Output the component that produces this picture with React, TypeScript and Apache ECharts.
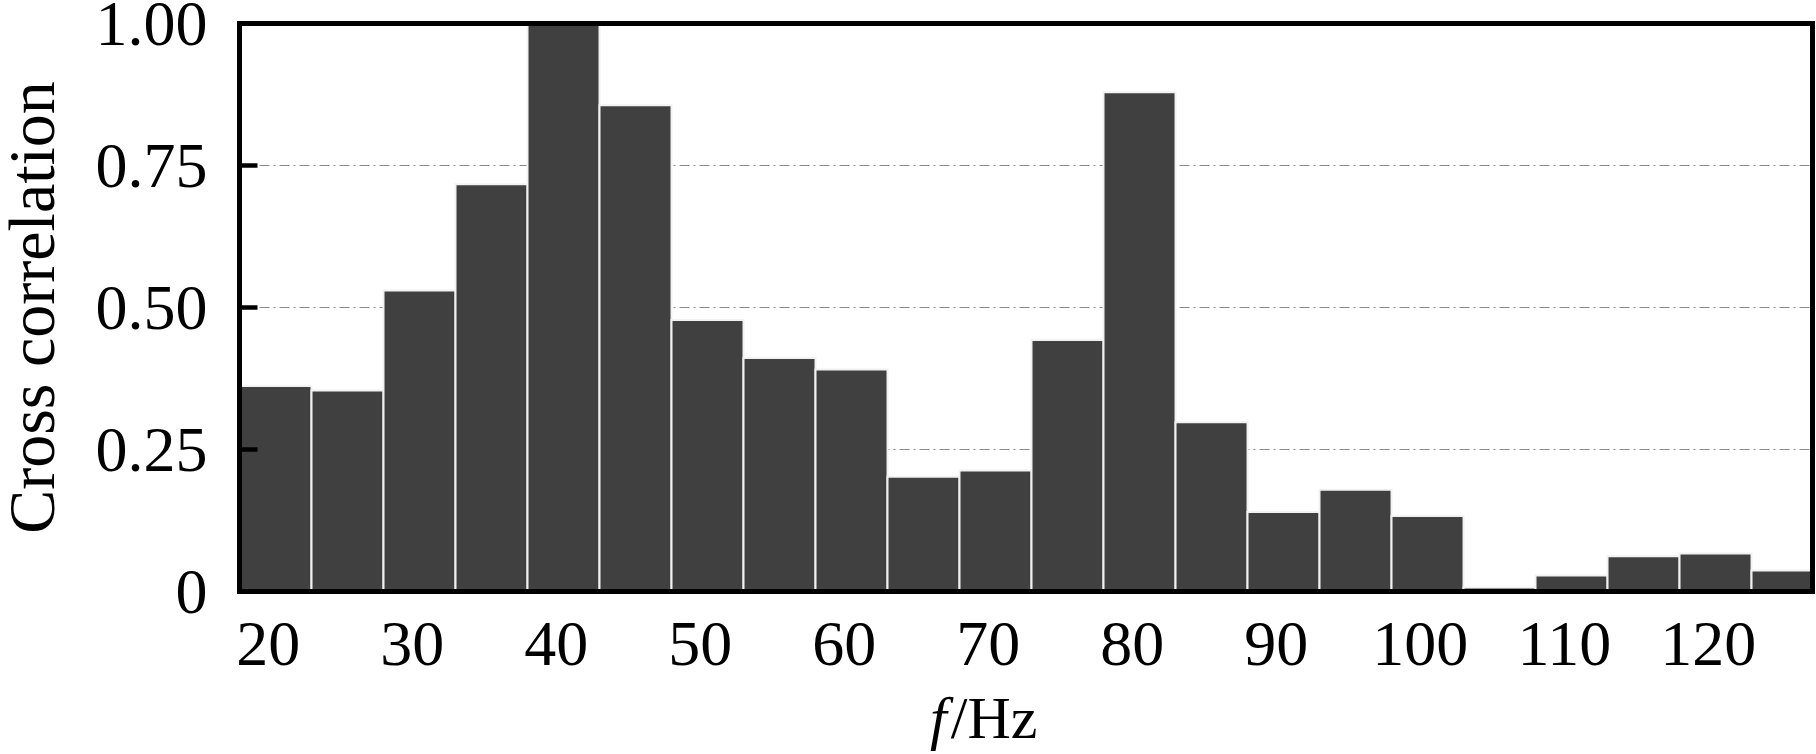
import React, { useEffect, useRef } from "react";
import * as echarts from "echarts";

// Histogram bins (Hz): centre frequency of each 5 Hz bin
const binCenters = [
  20.5, 25.5, 30.5, 35.5, 40.5, 45.5, 50.5, 55.5, 60.5, 65.5, 70.5,
  75.5, 80.5, 85.5, 90.5, 95.5, 100.5, 105.5, 110.5, 115.5, 120.5, 125.5,
];
const binWidth = 5;
// Cross correlation value of each bin
const crossCorrelation = [
  0.362, 0.354, 0.53, 0.717, 1.0, 0.856, 0.478, 0.411, 0.391, 0.202, 0.213,
  0.443, 0.879, 0.298, 0.14, 0.179, 0.133, 0.007, 0.028, 0.062, 0.067, 0.037,
];
const xTickValues = [20, 30, 40, 50, 60, 70, 80, 90, 100, 110, 120];
const xMin = 18;
const xMax = 127.2;
const yMin = 0;
const yMax = 1;
const yInterval = 0.25;

const FONT = "'Liberation Serif', 'Times New Roman', serif";

export default function App() {
  const ref = useRef<HTMLDivElement>(null);

  useEffect(() => {
    document.body.style.margin = "0";
    if (!ref.current) return;
    const chart = echarts.init(ref.current, undefined, { renderer: "svg" });

    const frameLine = {
      show: true,
      onZero: false,
      lineStyle: { color: "#000", width: 5, cap: "square" as const },
    };

    const option = {
      animation: false,
      backgroundColor: "#fff",
      grid: {
        left: 239.5,
        right: 4,
        top: 23.5,
        bottom: 162.5,
        containLabel: false,
        outerBoundsMode: "none",
      },
      xAxis: [
        {
          type: "value",
          position: "bottom",
          min: xMin,
          max: xMax,
          z: 5,
          axisLine: frameLine,
          axisTick: { show: false },
          splitLine: { show: false },
          axisLabel: {
            customValues: xTickValues,
            fontFamily: FONT,
            fontSize: 64,
            color: "#000",
            margin: 20,
          },
          name: "{i|f}/Hz",
          nameLocation: "middle",
          nameGap: 96,
          nameTextStyle: {
            fontFamily: FONT,
            fontSize: 60,
            color: "#000",
            padding: [0, 84, 0, 0],
            rich: {
              i: { fontFamily: FONT, fontSize: 60, fontStyle: "italic", color: "#000", padding: [0, 4, 0, 0] },
            },
          },
        },
        {
          type: "value",
          position: "top",
          min: xMin,
          max: xMax,
          z: 5,
          axisLine: frameLine,
          axisTick: { show: false },
          axisLabel: { show: false },
          splitLine: { show: false },
        },
      ],
      yAxis: [
        {
          type: "value",
          min: yMin,
          max: yMax,
          interval: yInterval,
          position: "left",
          axisLine: { show: false },
          axisTick: { show: false },
          axisLabel: { show: false },
          splitLine: {
            show: true,
            lineStyle: { color: "#8a8a8a", width: 1.2, type: [10, 4, 2, 4] },
          },
        },
        {
          type: "value",
          min: yMin,
          max: yMax,
          interval: yInterval,
          position: "left",
          z: 5,
          axisLine: frameLine,
          axisTick: { show: true, inside: true, length: 18, lineStyle: { color: "#000", width: 4.5 } },
          splitLine: { show: false },
          axisLabel: {
            fontFamily: FONT,
            fontSize: 64,
            color: "#000",
            margin: 32,
            formatter: (v: number) => (v === 0 ? "0" : v.toFixed(2)),
          },
          name: "Cross correlation",
          nameLocation: "middle",
          nameGap: 175,
          nameTextStyle: { fontFamily: FONT, fontSize: 66, color: "#000" },
        },
        {
          type: "value",
          min: yMin,
          max: yMax,
          position: "right",
          z: 5,
          axisLine: frameLine,
          axisTick: { show: false },
          axisLabel: { show: false },
          splitLine: { show: false },
        },
      ],
      series: [
        {
          type: "custom",
          xAxisIndex: 0,
          yAxisIndex: 0,
          encode: { x: 0, y: 1 },
          data: binCenters.map((c, i) => [c, crossCorrelation[i]]),
          renderItem: (params: any, api: any) => {
            const c = api.value(0);
            const v = api.value(1);
            const p0 = api.coord([c - binWidth / 2, v]);
            const p1 = api.coord([c + binWidth / 2, 0]);
            const cs = params.coordSys;
            const rect = echarts.graphic.clipRectByRect(
              { x: p0[0], y: p0[1], width: p1[0] - p0[0], height: p1[1] - p0[1] },
              { x: cs.x, y: cs.y, width: cs.width, height: cs.height }
            );
            if (!rect) return null;
            return {
              type: "rect",
              shape: rect,
              style: { fill: "#404040", stroke: "#f2f2f2", lineWidth: 2 },
            };
          },
        },
      ],
    };

    chart.setOption(option as any);
    return () => chart.dispose();
  }, []);

  return <div ref={ref} style={{ width: 1816, height: 754 }} />;
}
